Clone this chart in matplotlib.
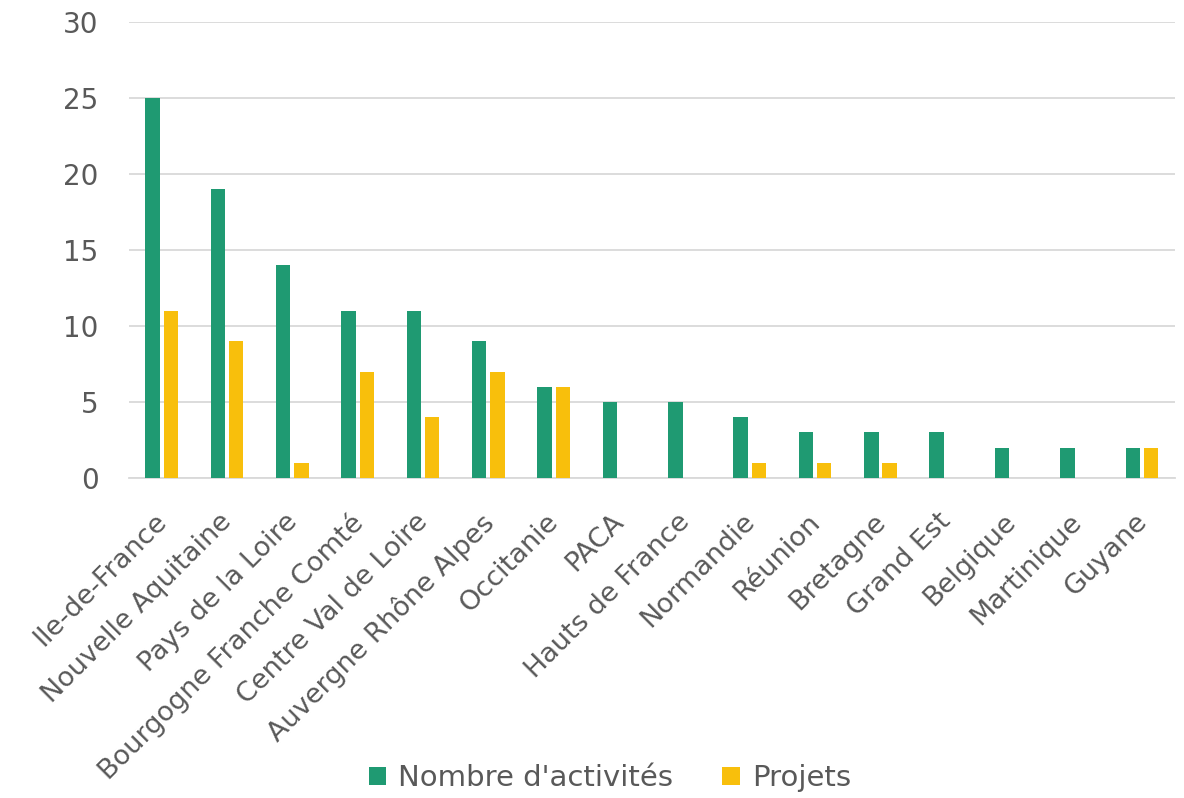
import numpy as np
import matplotlib.pyplot as plt
from matplotlib.transforms import ScaledTranslation

regions = ["Ile-de-France", "Nouvelle Aquitaine", "Pays de la Loire",
           "Bourgogne Franche Comté", "Centre Val de Loire", "Auvergne Rhône Alpes",
           "Occitanie", "PACA", "Hauts de France", "Normandie", "Réunion",
           "Bretagne", "Grand Est", "Belgique", "Martinique", "Guyane"]
activites = [25, 19, 14, 11, 11, 9, 6, 5, 5, 4, 3, 3, 3, 2, 2, 2]
projets = [11, 9, 1, 7, 4, 7, 6, 0, 0, 1, 1, 1, 0, 0, 0, 2]
yticks = [0, 5, 10, 15, 20, 25, 30]

green = "#1f9a72"
yellow = "#f8bf0c"
grey = "#595959"

plt.rcParams['font.family'] = ['DejaVu Sans']

fig = plt.figure(figsize=(11.84, 7.98), dpi=100)
ax = fig.add_axes([0.109, 0.401, 0.883, 0.571])

x = np.arange(len(regions))
w = 0.22
ax.bar(x - 0.14, activites, w, color=green, label="Nombre d'activités", zorder=3)
ax.bar(x + 0.14, projets, w, color=yellow, label="Projets", zorder=3)

ax.set_xlim(-0.5, len(regions) - 0.5)
ax.set_ylim(0, 30)
ax.set_yticks(yticks)
ax.yaxis.grid(True, color="#d9d9d9", linewidth=1.3, zorder=0)
for s in ["top", "right", "left"]:
    ax.spines[s].set_visible(False)
ax.spines["bottom"].set_color("#d9d9d9")
ax.spines["bottom"].set_linewidth(1.3)
ax.tick_params(axis="y", length=0, labelsize=20, colors=grey, pad=22)
ax.set_xticks(x)
ax.set_xticklabels(regions, rotation=45, ha="right", rotation_mode="anchor")
ax.tick_params(axis="x", length=0, labelsize=19.5, colors=grey, pad=22)
shift = ScaledTranslation(-8 / 100, 0, fig.dpi_scale_trans)
for lbl in ax.get_xticklabels():
    lbl.set_transform(lbl.get_transform() + shift)

fig.legend(loc="center", bbox_to_anchor=(0.515, 0.025), ncol=2, frameon=False,
           fontsize=21, labelcolor=grey, handlelength=0.6, handleheight=0.6,
           handletextpad=0.4, columnspacing=1.7)

fig.savefig("out.png")
